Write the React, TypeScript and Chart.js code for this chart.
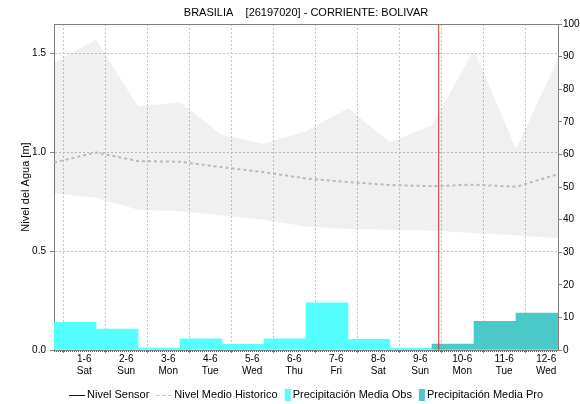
import React, { useEffect, useRef } from 'react';
import { Chart, registerables } from 'chart.js';

Chart.register(...registerables);

const FONT = '"Liberation Sans", Arial, sans-serif';

const TITLE = 'BRASILIA    [26197020] - CORRIENTE: BOLIVAR';
const Y_TITLE = 'Nivel del Agua [m]';

const TICK_DATES = ['1-6', '2-6', '3-6', '4-6', '5-6', '6-6', '7-6', '8-6', '9-6', '10-6', '11-6', '12-6'];
const TICK_DAYS = ['Sat', 'Sun', 'Mon', 'Tue', 'Wed', 'Thu', 'Fri', 'Sat', 'Sun', 'Mon', 'Tue', 'Wed'];
const TICK_X = [0.72, 1.72, 2.72, 3.72, 4.72, 5.72, 6.72, 7.72, 8.72, 9.72, 10.72, 11.72];

const BAND_X = [0, 1, 2, 3, 4, 5, 6, 7, 8, 9, 10, 11, 12];
const BAND_UPPER = [1.454, 1.571, 1.232, 1.254, 1.088, 1.044, 1.108, 1.224, 1.052, 1.137, 1.52, 1.019, 1.473];
const BAND_LOWER = [0.792, 0.77, 0.71, 0.702, 0.681, 0.659, 0.625, 0.612, 0.608, 0.603, 0.592, 0.581, 0.566];
const MEAN_LEVEL = [0.949, 1.0, 0.956, 0.953, 0.925, 0.9, 0.868, 0.85, 0.835, 0.829, 0.837, 0.826, 0.89];

const OBS_X = [0.5, 1.5, 2.5, 3.5, 4.5, 5.5, 6.5, 7.5, 8.5];
const OBS_PRECIP = [8.5, 6.4, 0.6, 3.4, 1.75, 3.4, 14.5, 3.3, 0.5];
const PRO_X = [9.5, 10.5, 11.5];
const PRO_PRECIP = [1.8, 8.8, 11.3];

const NOW_X = 9.16;
const Y_MAX = 1.65;

const LEGEND_LABELS = ['Nivel Sensor', 'Nivel Medio Historico', 'Precipitación Media Obs', 'Precipitación Media Pro'];

const COLOR_SENSOR = '#0000cc';
const COLOR_MEAN = '#b8b8b8';
const COLOR_OBS = '#55ffff';
const COLOR_PRO = '#4bc9c9';
const COLOR_NOW = '#e52b2b';
const COLOR_GRID = '#c4c4c4';
const COLOR_AXIS = '#808080';

const decorPlugin = {
  id: 'decor',
  afterDraw(chart: any) {
    const { ctx, chartArea: a } = chart;
    ctx.save();
    // top border
    ctx.strokeStyle = COLOR_AXIS;
    ctx.lineWidth = 1;
    ctx.beginPath();
    ctx.moveTo(a.left, Math.floor(a.top) + 0.5);
    ctx.lineTo(a.right, Math.floor(a.top) + 0.5);
    ctx.stroke();
    // minor ticks (dotted) along the time axis
    ctx.strokeStyle = '#555555';
    ctx.setLineDash([1, 1]);
    ctx.beginPath();
    ctx.moveTo(a.left, Math.round(a.bottom) + 1.5);
    ctx.lineTo(a.right, Math.round(a.bottom) + 1.5);
    ctx.stroke();
    ctx.setLineDash([]);

    // title
    const cx = (a.left + a.right) / 2;
    ctx.font = `11px ${FONT}`;
    ctx.fillStyle = '#000';
    ctx.textAlign = 'center';
    ctx.textBaseline = 'middle';
    ctx.fillText(TITLE, cx, 13);

    // legend
    const ly = 395;
    ctx.font = `11px ${FONT}`;
    const symW = [16, 16, 6, 6];
    const gapSym = 2;
    const gapItem = 7;
    const widths = LEGEND_LABELS.map((t, i) => symW[i] + gapSym + ctx.measureText(t).width);
    const total = widths.reduce((s, w) => s + w, 0) + gapItem * (widths.length - 1);
    let x = Math.round(cx - total / 2);
    ctx.textAlign = 'left';
    LEGEND_LABELS.forEach((t, i) => {
      if (i === 0) {
        ctx.strokeStyle = COLOR_SENSOR;
        ctx.lineWidth = 1;
        ctx.beginPath();
        ctx.moveTo(x, ly + 0.5);
        ctx.lineTo(x + symW[i], ly + 0.5);
        ctx.stroke();
      } else if (i === 1) {
        ctx.strokeStyle = COLOR_MEAN;
        ctx.lineWidth = 1;
        ctx.setLineDash([3, 3]);
        ctx.beginPath();
        ctx.moveTo(x, ly + 0.5);
        ctx.lineTo(x + symW[i], ly + 0.5);
        ctx.stroke();
        ctx.setLineDash([]);
      } else {
        ctx.fillStyle = i === 2 ? COLOR_OBS : COLOR_PRO;
        ctx.fillRect(x, ly - 6, symW[i], 12);
      }
      ctx.fillStyle = '#000';
      ctx.fillText(t, x + symW[i] + gapSym, ly);
      x += widths[i] + gapItem;
    });
    ctx.restore();
  },
};

export default function App() {
  const canvasRef = useRef<HTMLCanvasElement | null>(null);

  useEffect(() => {
    if (!canvasRef.current) return;
    const chart = new Chart(canvasRef.current, {
      type: 'line',
      data: {
        datasets: [
          {
            type: 'line',
            label: LEGEND_LABELS[0],
            data: [],
            borderColor: COLOR_SENSOR,
            borderWidth: 1,
            pointRadius: 0,
            yAxisID: 'y',
          },
          {
            type: 'line',
            label: 'now',
            data: [
              { x: NOW_X, y: 0 },
              { x: NOW_X, y: Y_MAX },
            ],
            borderColor: COLOR_NOW,
            borderWidth: 1,
            pointRadius: 0,
            yAxisID: 'y',
          },
          {
            type: 'line',
            label: LEGEND_LABELS[1],
            data: BAND_X.map((x, i) => ({ x, y: MEAN_LEVEL[i] })),
            borderColor: COLOR_MEAN,
            borderWidth: 2,
            borderDash: [3, 3],
            pointRadius: 0,
            tension: 0,
            yAxisID: 'y',
          },
          {
            type: 'bar',
            label: LEGEND_LABELS[2],
            data: OBS_X.map((x, i) => ({ x, y: OBS_PRECIP[i] })),
            backgroundColor: COLOR_OBS,
            borderWidth: 0,
            barPercentage: 1,
            categoryPercentage: 1,
            grouped: false,
            yAxisID: 'y1',
          },
          {
            type: 'bar',
            label: LEGEND_LABELS[3],
            data: PRO_X.map((x, i) => ({ x, y: PRO_PRECIP[i] })),
            backgroundColor: COLOR_PRO,
            borderWidth: 0,
            barPercentage: 1,
            categoryPercentage: 1,
            grouped: false,
            yAxisID: 'y1',
          },
          {
            type: 'line',
            label: 'lower',
            data: BAND_X.map((x, i) => ({ x, y: BAND_LOWER[i] })),
            borderWidth: 0,
            borderColor: 'rgba(0,0,0,0)',
            pointRadius: 0,
            tension: 0,
            fill: false,
            yAxisID: 'y',
          },
          {
            type: 'line',
            label: 'upper',
            data: BAND_X.map((x, i) => ({ x, y: BAND_UPPER[i] })),
            borderWidth: 0,
            borderColor: 'rgba(0,0,0,0)',
            backgroundColor: 'rgba(0,0,0,0.06)',
            pointRadius: 0,
            tension: 0,
            fill: '-1',
            yAxisID: 'y',
          },
        ] as any,
      },
      options: {
        responsive: false,
        animation: false,
        devicePixelRatio: 1,
        parsing: true,
        layout: { padding: { top: 24, bottom: 22, left: 0, right: 0 } },
        plugins: {
          legend: { display: false },
          title: { display: false },
          tooltip: { enabled: false },
        },
        scales: {
          x: {
            type: 'linear',
            min: 0,
            max: 12,
            offset: false,
            afterBuildTicks: (s: any) => {
              s.ticks = TICK_X.map((v) => ({ value: v }));
            },
            afterFit: (s: any) => {
              s.height = 32;
            },
            ticks: {
              autoSkip: false,
              maxRotation: 0,
              minRotation: 0,
              padding: 0,
              color: '#000',
              font: { size: 10, family: FONT },
              callback: (_v: any, i: number) => [TICK_DATES[i], TICK_DAYS[i]],
            },
            grid: { color: COLOR_GRID, tickLength: 3, tickColor: COLOR_AXIS },
            border: { color: COLOR_AXIS, dash: [2, 2] },
          },
          y: {
            type: 'linear',
            position: 'left',
            min: 0,
            max: Y_MAX,
            afterFit: (s: any) => {
              s.width = 54;
            },
            ticks: {
              stepSize: 0.5,
              includeBounds: false,
              padding: 4,
              color: '#000',
              font: { size: 10, family: FONT },
              callback: (v: any) => Number(v).toFixed(1),
            },
            grid: { color: COLOR_GRID, tickLength: 4, tickColor: COLOR_AXIS },
            border: { color: COLOR_AXIS, dash: [2, 2] },
            title: {
              display: true,
              text: Y_TITLE,
              color: '#000',
              font: { size: 11, family: FONT },
              padding: { top: 19, bottom: 0 },
            },
          },
          y1: {
            type: 'linear',
            position: 'right',
            min: 0,
            max: 100,
            afterFit: (s: any) => {
              s.width = 22;
            },
            ticks: {
              stepSize: 10,
              padding: 1,
              color: '#000',
              font: { size: 10, family: FONT },
            },
            grid: { drawOnChartArea: false, tickLength: 4, tickColor: COLOR_AXIS, color: COLOR_AXIS },
            border: { color: COLOR_AXIS },
          },
        },
      } as any,
      plugins: [decorPlugin],
    });
    return () => chart.destroy();
  }, []);

  return (
    <div style={{ position: 'fixed', left: 0, top: 0, width: 580, height: 404, background: '#fff' }}>
      <canvas ref={canvasRef} width={580} height={404} style={{ display: 'block', width: 580, height: 404 }} />
    </div>
  );
}
